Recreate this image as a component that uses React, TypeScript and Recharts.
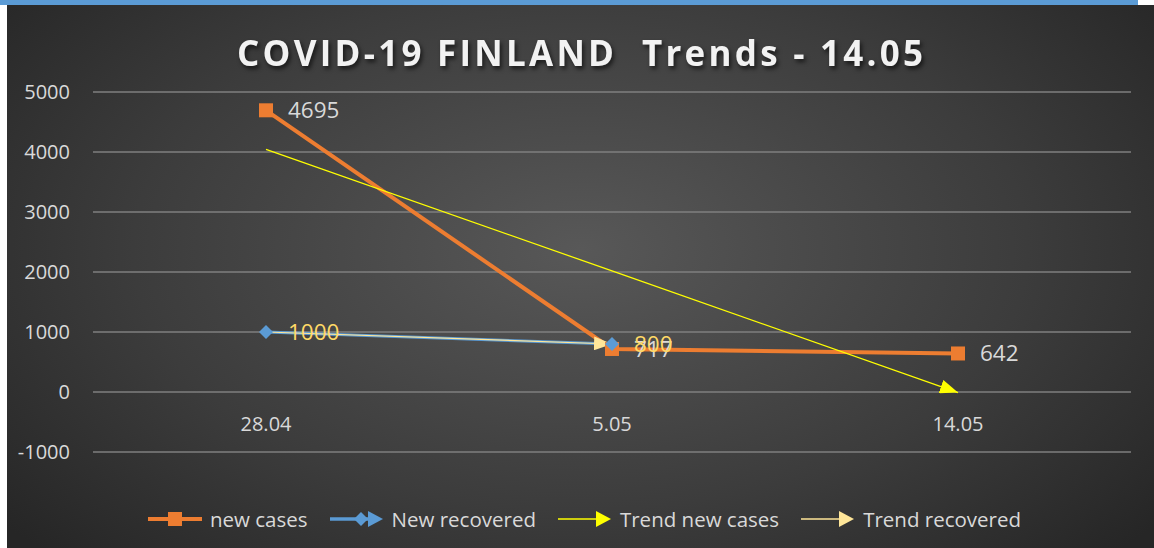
import React from 'react';
import { LineChart, Line, XAxis, YAxis, CartesianGrid, LabelList } from 'recharts';

const categories = ['28.04', '5.05', '14.05'];
const newCases = [4695, 717, 642];
const newRecovered = [1000, 800, null];
const trendNewCases = [4045, 2018, -9];
const trendRecovered = [1000, 800, null];
const yTicks = [-1000, 0, 1000, 2000, 3000, 4000, 5000];

const ORANGE = '#ED7D31';
const BLUE = '#5B9BD5';
const YELLOW = '#FFFF00';
const PALE = '#FFE699';
const GOLD = '#FFD966';
const TEXT = '#D9D9D9';
const FONT = '"Open Sans", "DejaVu Sans", sans-serif';

const data = categories.map((cat, i) => ({
  cat,
  newCases: newCases[i],
  newRecovered: newRecovered[i],
  trendNewCases: trendNewCases[i],
  trendRecovered: trendRecovered[i],
}));

const legendItems = [
  { key: 'newCases', label: 'new cases', color: ORANGE },
  { key: 'newRecovered', label: 'New recovered', color: BLUE },
  { key: 'trendNewCases', label: 'Trend new cases', color: YELLOW },
  { key: 'trendRecovered', label: 'Trend recovered', color: PALE },
];

const SquareDot = (props: any) => {
  const { cx, cy, index } = props;
  if (cx == null || cy == null) return <g key={index} />;
  return <rect key={index} x={cx - 7} y={cy - 7} width={14} height={14} fill={ORANGE} />;
};

const DiamondDot = (props: any) => {
  const { cx, cy, index } = props;
  if (cx == null || cy == null) return <g key={index} />;
  return (
    <polygon
      key={index}
      points={`${cx},${cy - 7} ${cx + 7},${cy} ${cx},${cy + 7} ${cx - 7},${cy}`}
      fill={BLUE}
    />
  );
};

const XTick = (props: any) => {
  const { x, y, payload } = props;
  return (
    <text x={x} y={y - 29} textAnchor="middle" dominantBaseline="central" fill={TEXT} fontSize={20} fontFamily={FONT}>
      {payload.value}
    </text>
  );
};

function LegendIcon({ k, color }: { k: string; color: string }) {
  return (
    <svg width={54} height={20} style={{ display: 'block' }}>
      {k === 'newCases' && (
        <>
          <line x1={0} y1={10} x2={54} y2={10} stroke={color} strokeWidth={4} />
          <rect x={20} y={3} width={14} height={14} fill={color} />
        </>
      )}
      {k === 'newRecovered' && (
        <>
          <line x1={0} y1={10} x2={44} y2={10} stroke={color} strokeWidth={3.5} />
          <polygon points="31,3 38,10 31,17 24,10" fill={color} />
          <polygon points="38,2 53,10 38,18" fill={color} />
        </>
      )}
      {(k === 'trendNewCases' || k === 'trendRecovered') && (
        <>
          <line x1={0} y1={10} x2={40} y2={10} stroke={color} strokeWidth={1.5} />
          <polygon points="38,2 53,10 38,18" fill={color} />
        </>
      )}
    </svg>
  );
}

export default function App() {
  return (
    <div style={{ position: 'fixed', left: 0, top: 0, width: 1154, height: 548, background: '#fff', overflow: 'hidden' }}>
      <div style={{ position: 'absolute', left: 0, top: 0, width: 1138, height: 5, background: BLUE }} />
      <div
        style={{
          position: 'absolute',
          left: 7,
          top: 5,
          width: 1147,
          height: 543,
          background: 'radial-gradient(ellipse 65% 80% at 50% 45%, #585858 0%, #3c3c3c 60%, #262626 100%)',
        }}
      >
        <svg width={0} height={0} style={{ position: 'absolute' }}>
          <defs>
            <marker id="arrowYellow" viewBox="0 0 18 14" markerWidth={18} markerHeight={14} refX={18} refY={7} orient="auto" markerUnits="userSpaceOnUse">
              <path d="M0,0 L18,7 L0,14 z" fill={YELLOW} />
            </marker>
            <marker id="arrowPale" viewBox="0 0 18 14" markerWidth={18} markerHeight={14} refX={18} refY={7} orient="auto" markerUnits="userSpaceOnUse">
              <path d="M0,0 L18,7 L0,14 z" fill={PALE} />
            </marker>
          </defs>
        </svg>

        <svg width={1147} height={90} style={{ position: 'absolute', left: 0, top: 0 }}>
          <text
            x={573}
            y={47}
            textAnchor="middle"
            dominantBaseline="central"
            fill="#F2F2F2"
            fontSize={35}
            fontWeight={700}
            fontFamily={FONT}
            textLength={686}
            lengthAdjust="spacing"
            style={{ whiteSpace: 'pre', filter: 'drop-shadow(2px 3px 2px rgba(0,0,0,0.6))' }}
          >
            COVID-19 FINLAND  Trends - 14.05
          </text>
        </svg>

        <div style={{ position: 'absolute', left: 0, top: 0 }}>
          <LineChart width={1147} height={543} data={data} margin={{ top: 87, right: 23, left: 0, bottom: 0 }}>
            <CartesianGrid vertical={false} stroke="#7F7F7F" strokeWidth={1.5} />
            <XAxis
              dataKey="cat"
              height={96}
              axisLine={false}
              tickLine={false}
              tickSize={0}
              tickMargin={0}
              padding={{ left: 173, right: 173 }}
              tick={<XTick />}
            />
            <YAxis
              width={86}
              domain={[-1000, 5000]}
              ticks={yTicks}
              axisLine={false}
              tickLine={false}
              tickSize={0}
              tickMargin={23}
              tick={{ fill: TEXT, fontSize: 20, fontFamily: FONT }}
            />
            <Line dataKey="newCases" stroke={ORANGE} strokeWidth={4} dot={<SquareDot />} isAnimationActive={false}>
              <LabelList dataKey="newCases" position="right" offset={22} fill={TEXT} fontSize={22.5} fontFamily={FONT} />
            </Line>
            <Line dataKey="newRecovered" stroke={BLUE} strokeWidth={3} dot={<DiamondDot />} isAnimationActive={false} />
            <Line
              dataKey="trendNewCases"
              stroke={YELLOW}
              strokeWidth={1.25}
              dot={false}
              markerEnd="url(#arrowYellow)"
              isAnimationActive={false}
            />
            <Line
              dataKey="trendRecovered"
              stroke={PALE}
              strokeWidth={1.25}
              dot={false}
              markerEnd="url(#arrowPale)"
              isAnimationActive={false}
            >
              <LabelList dataKey="trendRecovered" position="right" offset={22} fill={GOLD} fontSize={22.5} fontFamily={FONT} />
            </Line>
          </LineChart>
        </div>

        <div
          style={{
            position: 'absolute',
            left: 141,
            top: 500,
            display: 'flex',
            alignItems: 'center',
            fontFamily: FONT,
            fontSize: 20.5,
            color: TEXT,
            whiteSpace: 'nowrap',
          }}
        >
          {legendItems.map((it) => (
            <div key={it.key} style={{ display: 'flex', alignItems: 'center', marginRight: 22 }}>
              <LegendIcon k={it.key} color={it.color} />
              <span style={{ marginLeft: 8 }}>{it.label}</span>
            </div>
          ))}
        </div>
      </div>
    </div>
  );
}
